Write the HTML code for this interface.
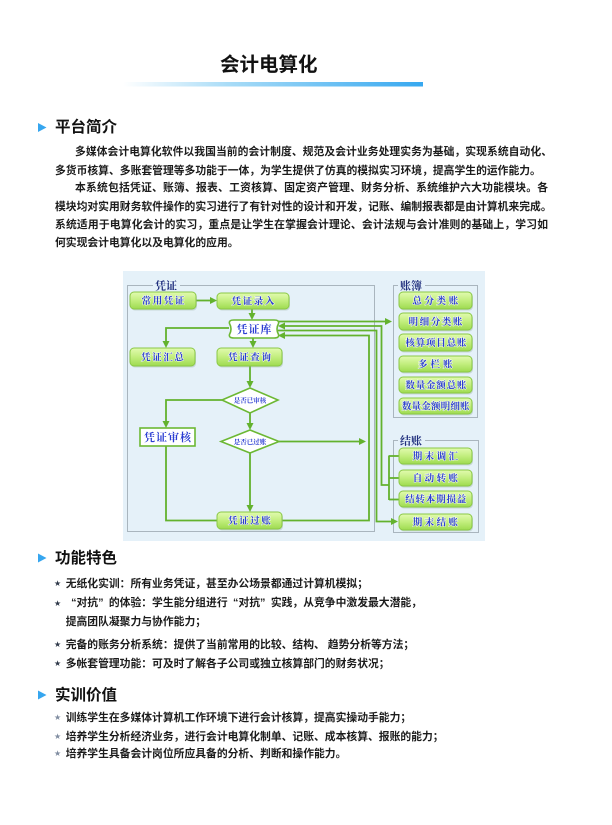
<!DOCTYPE html>
<html lang="zh">
<head>
<meta charset="utf-8">
<style>
  html,body{margin:0;padding:0;background:#fff;}
  body{width:612px;height:825px;position:relative;overflow:hidden;
       font-family:"Liberation Sans","Noto Sans CJK SC",sans-serif;color:#1a1a1a;}
  .t{position:absolute;white-space:nowrap;line-height:1;}
  .title{font-size:19.5px;font-weight:bold;color:#111;}
  .h{font-size:15.5px;font-weight:bold;color:#111;}
  .p{font-size:10.8px;font-weight:bold;color:#1c1c1c;}
  .j{text-align:justify;text-align-last:justify;}
  .star{font-family:"DejaVu Sans",sans-serif;font-size:8px;color:#2e3848;}
  .star2{font-family:"DejaVu Sans",sans-serif;font-size:8px;color:#7f8ca0;}
  .qo{display:inline-block;width:1em;text-align:right;}
  .qc{display:inline-block;width:1em;text-align:left;}
  svg{position:absolute;left:0;top:0;}
</style>
</head>
<body>

<svg width="612" height="825" viewBox="0 0 612 825" xmlns="http://www.w3.org/2000/svg">
  <defs>
    <linearGradient id="bar" x1="0" y1="0" x2="1" y2="0">
      <stop offset="0" stop-color="#ffffff"/>
      <stop offset="0.35" stop-color="#a9dcf7"/>
      <stop offset="1" stop-color="#36a8f0"/>
    </linearGradient>
    <linearGradient id="ng" x1="0" y1="0" x2="0" y2="1">
      <stop offset="0" stop-color="#e2fbb0"/>
      <stop offset="0.5" stop-color="#c2ee7e"/>
      <stop offset="1" stop-color="#9edb50"/>
    </linearGradient>
  </defs>

  <!-- title bar -->
  <rect x="123" y="82" width="300" height="4.5" fill="url(#bar)"/>

  <!-- section triangles -->
  <polygon points="38,123 46.5,127.5 38,132" fill="#36a6ef"/>
  <polygon points="38,553.5 46.5,558 38,562.5" fill="#36a6ef"/>
  <polygon points="38,690.5 46.5,695 38,699.5" fill="#36a6ef"/>

  <!-- ============ DIAGRAM ============ -->
  <rect x="123" y="271" width="362" height="270" fill="#e5f1f9"/>

  <!-- group boxes -->
  <rect x="127.5" y="285.5" width="247" height="246" fill="none" stroke="#a9b5be" stroke-width="1"/>
  <rect x="393.5" y="285.5" width="84" height="132" fill="none" stroke="#a9b5be" stroke-width="1"/>
  <rect x="393.5" y="440.5" width="85" height="92" fill="none" stroke="#a9b5be" stroke-width="1"/>
  <rect x="153" y="279" width="27" height="12" fill="#e5f1f9"/>
  <rect x="398" y="279" width="27" height="12" fill="#e5f1f9"/>
  <rect x="398" y="434" width="27" height="12" fill="#e5f1f9"/>
  <g font-family="'Liberation Serif','Noto Serif CJK SC',serif" font-size="11" font-weight="bold" fill="#1e2d7c">
    <text x="155" y="289.5">凭证</text>
    <text x="400" y="289.5">账簿</text>
    <text x="400" y="444.5">结账</text>
  </g>

  <!-- connectors -->
  <g fill="none" stroke="#63b22e" stroke-width="1.8">
    <path d="M196,300.5 H211"/>
    <path d="M252,309 V314"/>
    <path d="M229,328 H166 V342"/>
    <path d="M253,338 V342"/>
    <path d="M250,366 V382"/>
    <path d="M222,400 H166 V422"/>
    <path d="M250,413 V424"/>
    <path d="M279,441.5 H360"/>
    <path d="M250,453 V506"/>
    <path d="M166,446 V520.5 H217"/>
    <path d="M282,520.5 H369 V335.5 H284"/>
    <path d="M278,321.5 H386"/>
    <path d="M284,326 H381.5 V485 H389"/>
    <path d="M278,330.5 H376.5 V521.5 H391"/>
    <path d="M389,455.5 V500"/>
    <path d="M389,456 H399"/>
    <path d="M389,478 H399"/>
    <path d="M389,499.5 H399"/>
  </g>
  <g fill="#63b22e">
    <polygon points="210,297 217,300.5 210,304"/>
    <polygon points="248.5,313 252,320 255.5,313"/>
    <polygon points="162.5,341 166,348 169.5,341"/>
    <polygon points="249.5,341 253,348 256.5,341"/>
    <polygon points="246.5,381 250,388 253.5,381"/>
    <polygon points="162.5,421 166,428 169.5,421"/>
    <polygon points="246.5,423 250,430 253.5,423"/>
    <polygon points="359,438 366,441.5 359,445"/>
    <polygon points="246.5,505 250,512 253.5,505"/>
    <polygon points="285,332 278,335.5 285,339"/>
    <polygon points="385,318 392,321.5 385,325"/>
    <polygon points="285,322.5 278,326 285,329.5"/>
    <polygon points="391,518 398,521.5 391,525"/>
  </g>

  <!-- node shadows -->
  <g fill="#8fa89a" opacity="0.35">
    <rect x="131" y="293.5" width="66" height="17" rx="4"/>
    <rect x="218" y="294.5" width="72" height="16" rx="4"/>
    <rect x="131" y="349.5" width="65" height="18" rx="4"/>
    <rect x="218" y="349.5" width="65" height="18" rx="4"/>
    <rect x="218" y="513.5" width="65" height="17" rx="4"/>
    <rect x="400" y="293.5" width="73" height="17" rx="4"/>
    <rect x="400" y="314.5" width="73" height="17" rx="4"/>
    <rect x="400" y="335.5" width="73" height="17" rx="4"/>
    <rect x="400" y="357.5" width="73" height="16" rx="4"/>
    <rect x="400" y="378.5" width="73" height="16" rx="4"/>
    <rect x="400" y="399.5" width="73" height="16" rx="4"/>
    <rect x="400" y="449.5" width="73" height="16" rx="4"/>
    <rect x="400" y="471.5" width="73" height="16" rx="4"/>
    <rect x="400" y="492.5" width="73" height="16" rx="4"/>
    <rect x="400" y="515.5" width="73" height="16" rx="4"/>
  </g>

  <!-- green nodes -->
  <g fill="url(#ng)" stroke="#8ac846" stroke-width="1">
    <rect x="130" y="292" width="66" height="17" rx="4"/>
    <rect x="217" y="293" width="72" height="16" rx="4"/>
    <rect x="130" y="348" width="65" height="18" rx="4"/>
    <rect x="217" y="348" width="65" height="18" rx="4"/>
    <rect x="217" y="512" width="65" height="17" rx="4"/>
    <rect x="399" y="292" width="73" height="17" rx="4"/>
    <rect x="399" y="313" width="73" height="17" rx="4"/>
    <rect x="399" y="334" width="73" height="17" rx="4"/>
    <rect x="399" y="356" width="73" height="16" rx="4"/>
    <rect x="399" y="377" width="73" height="16" rx="4"/>
    <rect x="399" y="398" width="73" height="16" rx="4"/>
    <rect x="399" y="448" width="73" height="16" rx="4"/>
    <rect x="399" y="470" width="73" height="16" rx="4"/>
    <rect x="399" y="491" width="73" height="16" rx="4"/>
    <rect x="399" y="514" width="73" height="16" rx="4"/>
  </g>

  <!-- white nodes -->
  <path d="M234,320 H274 Q279.5,320 278.5,323.5 Q275.5,329 278.5,334.5 Q279.5,338 274,338 H234 Q228.5,338 229.5,334.5 Q232.5,329 229.5,323.5 Q228.5,320 234,320 Z"
        fill="#ffffff" stroke="#6cb834" stroke-width="1.6"/>
  <rect x="140" y="428" width="55" height="18" fill="#ffffff" stroke="#6cb834" stroke-width="1.6"/>
  <polygon points="222,400 250,388 278,400 250,413" fill="#ffffff" stroke="#6cb834" stroke-width="1.6"/>
  <polygon points="221,441.5 250,430 279,441.5 250,453" fill="#ffffff" stroke="#6cb834" stroke-width="1.6"/>

  <!-- node labels -->
  <g font-family="'Liberation Serif','Noto Serif CJK SC',serif" font-weight="bold" fill="#2b3dd2" text-anchor="middle"
     stroke="#ffffff" stroke-width="1.2" stroke-opacity="0.7" paint-order="stroke">
    <g font-size="9.5" letter-spacing="1.6">
      <text x="163.8" y="304">常用凭证</text>
      <text x="253.8" y="304.6">凭证录入</text>
      <text x="163.3" y="360.6">凭证汇总</text>
      <text x="250.3" y="360.6">凭证查询</text>
      <text x="250.3" y="524.1">凭证过账</text>
      <text x="436.6" y="304.1" letter-spacing="2.6">总分类账</text>
      <text x="436.3" y="325.1">明细分类账</text>
      <text x="436.3" y="346.1" letter-spacing="0.8">核算项目总账</text>
      <text x="436.8" y="367.6" letter-spacing="3">多栏账</text>
      <text x="436.3" y="388.6" letter-spacing="0.8">数量金额总账</text>
      <text x="435.8" y="409.6" letter-spacing="0.2">数量金额明细账</text>
      <text x="436.6" y="459.6" letter-spacing="2.4">期末调汇</text>
      <text x="436.6" y="481.6" letter-spacing="2.4">自动转账</text>
      <text x="436.1" y="502.6" letter-spacing="0.8">结转本期损益</text>
      <text x="436.6" y="525.6" letter-spacing="2.4">期末结账</text>
    </g>
    <text x="254.5" y="333.2" font-size="11" letter-spacing="1">凭证库</text>
    <text x="168" y="441.2" font-size="11" letter-spacing="1">凭证审核</text>
    <text x="250" y="402.6" font-size="6.5">是否已审核</text>
    <text x="250" y="444.1" font-size="6.5">是否已过账</text>
  </g>
</svg>

<!-- Title -->
<div class="t title" style="left:220px;top:55.8px;">会计电算化</div>

<!-- Section 1 -->
<div class="t h" style="left:55px;top:120.2px;">平台简介</div>
<div class="t p j" style="left:75px;top:147.2px;width:477px;">多媒体会计电算化软件以我国当前的会计制度、规范及会计业务处理实务为基础，实现系统自动化、</div>
<div class="t p" style="left:55px;top:165.6px;">多货币核算、多账套管理等多功能于一体，为学生提供了仿真的模拟实习环境，提高学生的运作能力。</div>
<div class="t p j" style="left:75px;top:183.2px;width:473px;">本系统包括凭证、账簿、报表、工资核算、固定资产管理、财务分析、系统维护六大功能模块。各</div>
<div class="t p" style="left:55px;top:201.6px;">模块均对实用财务软件操作的实习进行了有针对性的设计和开发，记账、编制报表都是由计算机来完成。</div>
<div class="t p j" style="left:55px;top:219.9px;width:493px;">系统适用于电算化会计的实习，重点是让学生在掌握会计理论、会计法规与会计准则的基础上，学习如</div>
<div class="t p" style="left:55px;top:237.6px;">何实现会计电算化以及电算化的应用。</div>

<!-- Section 2 -->
<div class="t h" style="left:55px;top:550.7px;">功能特色</div>
<div class="t star" style="left:54px;top:580px;">★</div>
<div class="t p" style="left:65.7px;top:578.9px;">无纸化实训：所有业务凭证，甚至办公场景都通过计算机模拟；</div>
<div class="t star" style="left:54px;top:599.5px;">★</div>
<div class="t p" style="left:65.7px;top:598.4px;"><span class="qo">“</span>对抗<span class="qc">”</span>的体验：学生能分组进行<span class="qo">“</span>对抗<span class="qc">”</span>实践，从竞争中激发最大潜能，</div>
<div class="t p" style="left:65.7px;top:616.8px;">提高团队凝聚力与协作能力；</div>
<div class="t star" style="left:54px;top:641px;">★</div>
<div class="t p" style="left:65.7px;top:639.9px;">完备的账务分析系统：提供了当前常用的比较、结构、 趋势分析等方法；</div>
<div class="t star" style="left:54px;top:660px;">★</div>
<div class="t p" style="left:65.7px;top:658.9px;">多帐套管理功能：可及时了解各子公司或独立核算部门的财务状况；</div>

<!-- Section 3 -->
<div class="t h" style="left:55px;top:687.7px;">实训价值</div>
<div class="t star2" style="left:54px;top:714.3px;">★</div>
<div class="t p" style="left:65.7px;top:713.2px;">训练学生在多媒体计算机工作环境下进行会计核算，提高实操动手能力；</div>
<div class="t star2" style="left:54px;top:732.7px;">★</div>
<div class="t p" style="left:65.7px;top:731.6px;">培养学生分析经济业务，进行会计电算化制单、记账、成本核算、报账的能力；</div>
<div class="t star2" style="left:54px;top:750.3px;">★</div>
<div class="t p" style="left:65.7px;top:749.2px;">培养学生具备会计岗位所应具备的分析、判断和操作能力。</div>

</body>
</html>
